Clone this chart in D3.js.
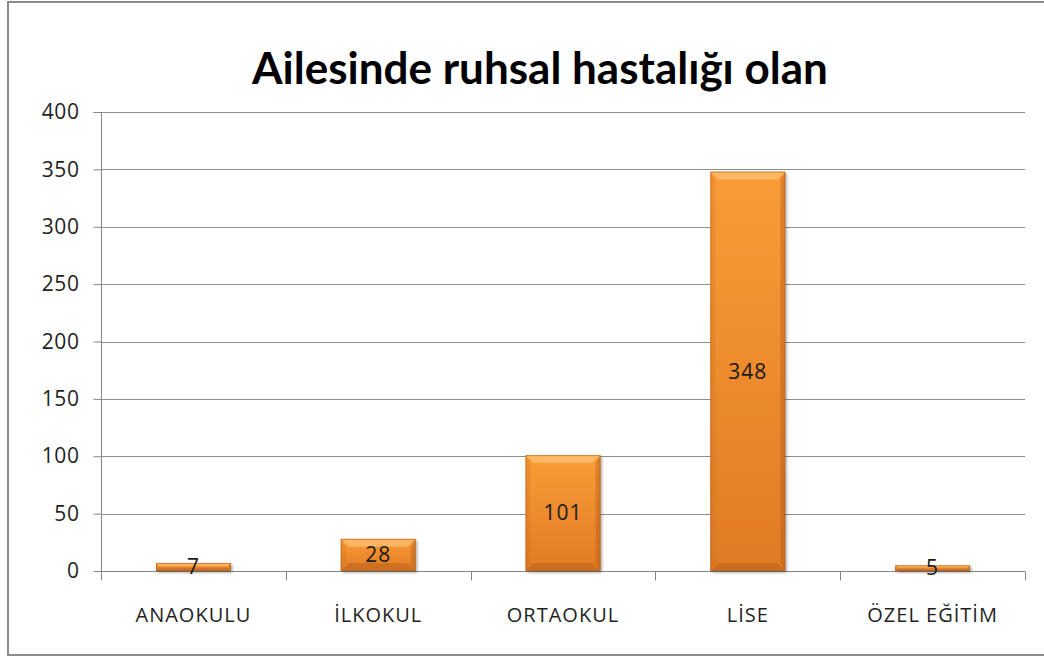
<!DOCTYPE html>
<html>
<head>
<meta charset="utf-8">
<script src="https://cdn.jsdelivr.net/npm/d3@7"></script>
<style>
  body { margin: 0; background: #fff; }
  svg { display: block; }
  .tick text { font-family: "Open Sans", sans-serif; fill: #1f1f1f; }
</style>
</head>
<body>
<svg id="chart" width="1044" height="657"></svg>
<script>
// data
var categories = ["ANAOKULU", "İLKOKUL", "ORTAOKUL", "LİSE", "ÖZEL EĞİTİM"];
var values = [7, 28, 101, 348, 5];
var yTicks = [0, 50, 100, 150, 200, 250, 300, 350, 400];
var title = "Ailesinde ruhsal hastalığı olan";

var svg = d3.select("#chart");
var margin = { left: 101, right: 19, top: 112, bottom: 86 };
var W = 1044, H = 657;

// outer frame (right side runs off the canvas)
svg.append("rect")
	.attr("x", 8).attr("y", 2)
	.attr("width", 1100).attr("height", 653)
	.attr("fill", "none")
	.attr("stroke", "#8c8c8c")
	.attr("stroke-width", 2);

var x = d3.scaleBand()
	.domain(categories)
	.range([margin.left, W - margin.right])
	.paddingInner(0.595)
	.paddingOuter(0.2975);

var bounds = d3.scaleBand()
	.domain(categories)
	.range([margin.left, W - margin.right]);

var y = d3.scaleLinear()
	.domain([0, 400])
	.range([H - margin.bottom, margin.top]);

var defs = svg.append("defs");
var grad = defs.append("linearGradient")
	.attr("id", "barFill")
	.attr("x1", 0).attr("y1", 0).attr("x2", 0).attr("y2", 1);
grad.append("stop").attr("offset", "0%").attr("stop-color", "#fa9c36");
grad.append("stop").attr("offset", "100%").attr("stop-color", "#e07a25");

var blur = defs.append("filter").attr("id", "shadow")
	.attr("x", "-20%").attr("y", "-20%").attr("width", "140%").attr("height", "140%");
blur.append("feGaussianBlur").attr("stdDeviation", 1.5);

// gridlines
svg.append("g")
	.selectAll("line")
	.data(yTicks.slice(1))
	.join("line")
	.attr("x1", margin.left).attr("x2", W - margin.right)
	.attr("y1", function(d) { return Math.round(y(d)) + 0.5; })
	.attr("y2", function(d) { return Math.round(y(d)) + 0.5; })
	.attr("stroke", "#8e8e8e");

// y axis
var yAxis = svg.append("g")
	.attr("transform", "translate(" + (margin.left + 0.5) + ",0)")
	.call(d3.axisLeft(y).tickValues(yTicks).tickSize(8).tickPadding(14));
yAxis.selectAll("text").style("font-size", "21px").attr("letter-spacing", "0.6px");
yAxis.selectAll("line, path").attr("stroke", "#868686");
yAxis.select(".domain").attr("d", "M-8," + (Math.round(y(400)) + 0.5) + "H0V" + (H - margin.bottom + 9));

// x axis with tick marks on category boundaries
var xg = svg.append("g").attr("transform", "translate(0," + (Math.round(y(0)) + 0.5) + ")");
xg.append("line")
	.attr("x1", margin.left).attr("x2", W - margin.right)
	.attr("stroke", "#868686");
var edges = categories.map(function(c) { return bounds(c); }).concat([W - margin.right]);
xg.selectAll("line.tk")
	.data(edges)
	.join("line")
	.attr("class", "tk")
	.attr("x1", function(d) { return Math.round(d) + 0.5; })
	.attr("x2", function(d) { return Math.round(d) + 0.5; })
	.attr("y1", 0).attr("y2", 9)
	.attr("stroke", "#868686");
xg.selectAll("text")
	.data(categories)
	.join("text")
	.attr("x", function(d) { return x(d) + x.bandwidth() / 2; })
	.attr("y", 50)
	.attr("text-anchor", "middle")
	.attr("font-family", "Open Sans, sans-serif")
	.attr("font-size", "20px")
	.attr("letter-spacing", "1px")
	.attr("fill", "#1f1f1f")
	.text(function(d) { return d; });

// bars with a bevel look
var bars = svg.append("g")
	.selectAll("g")
	.data(categories.map(function(c, i) { return { cat: c, v: values[i] }; }))
	.join("g");

bars.each(function(d) {
	var g = d3.select(this);
	var x0 = x(d.cat), w = x.bandwidth();
	var y0 = y(d.v), y1 = y(0);
	var h = y1 - y0;
	var b = Math.min(8, h / 2.5);

	g.append("rect")
		.attr("x", x0 + 1.5).attr("y", y0 + 1.5)
		.attr("width", w).attr("height", h)
		.attr("fill", "#000").attr("opacity", 0.35)
		.attr("filter", "url(#shadow)");
	g.append("rect")
		.attr("x", x0).attr("y", y0)
		.attr("width", w).attr("height", h)
		.attr("fill", "url(#barFill)");
	// top bevel
	g.append("polygon")
		.attr("points", [[x0, y0], [x0 + w, y0], [x0 + w - b, y0 + b], [x0 + b, y0 + b]].join(" "))
		.attr("fill", "#ffd08a").attr("opacity", 0.55);
	// bottom bevel
	g.append("polygon")
		.attr("points", [[x0, y1], [x0 + w, y1], [x0 + w - b, y1 - b], [x0 + b, y1 - b]].join(" "))
		.attr("fill", "#9c4d10").attr("opacity", 0.3);
	// side bevels
	g.append("polygon")
		.attr("points", [[x0, y0], [x0 + b * 0.6, y0 + b], [x0 + b * 0.6, y1 - b], [x0, y1]].join(" "))
		.attr("fill", "#c8651a").attr("opacity", 0.2);
	g.append("polygon")
		.attr("points", [[x0 + w, y0], [x0 + w - b * 0.6, y0 + b], [x0 + w - b * 0.6, y1 - b], [x0 + w, y1]].join(" "))
		.attr("fill", "#a5540f").attr("opacity", 0.35);
	g.append("rect")
		.attr("x", x0 + 0.5).attr("y", y0 + 0.5)
		.attr("width", w - 1).attr("height", Math.max(0, h - 1))
		.attr("fill", "none").attr("stroke", "#b8621c").attr("stroke-opacity", 0.6);

	g.append("text")
		.attr("x", x0 + w / 2)
		.attr("y", y(d.v / 2))
		.attr("dy", "0.35em")
		.attr("text-anchor", "middle")
		.attr("font-family", "Open Sans, sans-serif")
		.attr("font-size", "21px")
		.attr("letter-spacing", "1px")
		.attr("fill", "#1a1a1a")
		.text(d.v);
});

// title, sized to the width it takes in the picture
var t = svg.append("text")
	.attr("x", 540).attr("y", 84)
	.attr("text-anchor", "middle")
	.attr("font-family", "Lato, sans-serif")
	.attr("font-weight", "bold")
	.attr("font-size", "44px")
	.attr("fill", "#000")
	.text(title);
var tw = t.node().getComputedTextLength();
if (tw > 576) t.attr("textLength", 576).attr("lengthAdjust", "spacingAndGlyphs");
</script>
</body>
</html>
